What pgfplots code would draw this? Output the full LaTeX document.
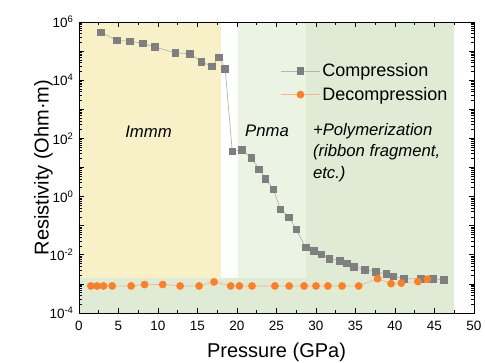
\documentclass[border=0pt]{standalone}
\usepackage{pgfplots}
\pgfplotsset{compat=1.18}
\usepackage{fontspec}
\setmainfont{Liberation Sans}
\definecolor{cyel}{HTML}{F8F1C8}
\definecolor{cgl}{HTML}{EBF4E3}
\definecolor{cg}{HTML}{DFEBD4}
\definecolor{cgray}{HTML}{7F7F7F}
\definecolor{cgrayl}{HTML}{B4B4B4}
\definecolor{corange}{HTML}{FF7F27}
\definecolor{corangel}{HTML}{F9B585}
\begin{document}
\begin{tikzpicture}
\path[use as bounding box] (-79pt,-50pt) rectangle (406pt,313pt);
\begin{axis}[
  at={(0,0)}, anchor=south west,
  scale only axis, width=395pt, height=291pt,
  ymode=log, log basis y=10,
  xmin=0, xmax=50, ymin=1e-4, ymax=1e6,
  axis on top,
  axis line style={line width=0.9pt},
  every tick/.style={black, line width=0.7pt},
  tick align=inside,
  major tick length=5pt, minor tick length=3pt,
  xtick={0,5,...,50},
  minor xtick={2.5,7.5,...,47.5},
  ytick={1e-4,1e-3,1e-2,1e-1,1e0,1e1,1e2,1e3,1e4,1e5,1e6},
  yticklabels={10\textsuperscript{-4},{},10\textsuperscript{-2},{},10\textsuperscript{0},{},10\textsuperscript{2},{},10\textsuperscript{4},{},10\textsuperscript{6}},
  minor ytick={2e-4,3e-4,4e-4,5e-4,6e-4,7e-4,8e-4,9e-4,
    2e-3,3e-3,4e-3,5e-3,6e-3,7e-3,8e-3,9e-3,
    2e-2,3e-2,4e-2,5e-2,6e-2,7e-2,8e-2,9e-2,
    2e-1,3e-1,4e-1,5e-1,6e-1,7e-1,8e-1,9e-1,
    2,3,4,5,6,7,8,9,
    20,30,40,50,60,70,80,90,
    200,300,400,500,600,700,800,900,
    2e3,3e3,4e3,5e3,6e3,7e3,8e3,9e3,
    2e4,3e4,4e4,5e4,6e4,7e4,8e4,9e4,
    2e5,3e5,4e5,5e5,6e5,7e5,8e5,9e5},
  /pgf/number format/assume math mode=true,
  ticklabel style={font=\fontsize{13.5}{16}\selectfont},
  xticklabel style={yshift=-5pt},
  yticklabel style={xshift=-2pt},
  xlabel={Pressure (GPa)},
  ylabel={Resistivity (Ohm·m)},
  label style={font=\fontsize{20}{24}\selectfont},
  xlabel style={yshift=-5pt},
  ylabel style={yshift=-10pt},
  legend cell align=left,
  legend style={draw=none, fill=none, at={(0.51,0.791)}, anchor=west,
    font=\fontsize{18}{23}\selectfont, row sep=5pt, inner sep=0pt},
  legend image code/.code={\draw[mark repeat=2,mark phase=2] plot coordinates {(0pt,0pt) (19.5pt,0pt) (39pt,0pt)};},
]
\fill[cyel] (axis cs:0,1.65e-3) rectangle (axis cs:18,1e6);
\fill[cgl] (axis cs:20.1,1.65e-3) rectangle (axis cs:28.7,1e6);
\fill[cg] (axis cs:28.7,1e-4) rectangle (axis cs:47.5,1e6);
\fill[cg] (axis cs:0,1e-4) rectangle (axis cs:28.7,1.65e-3);

\addplot[color=cgrayl, line width=0.7pt, mark=square*, mark size=3.3pt,
  mark options={fill=cgray, draw=cgray}] coordinates {
(2.8,4.37e5) (4.8,2.34e5) (6.4,2.19e5) (8.1,1.86e5) (9.6,1.38e5)
(12.2,8.7e4) (14.05,8.1e4) (15.5,4.37e4) (16.8,2.95e4) (17.7,6.17e4)
(18.5,2.51e4) (19.4,36.3) (20.6,39.8) (21.8,21.9) (22.8,8.71)
(23.6,4.17) (24.6,1.78) (25.5,0.363) (26.6,0.195) (27.5,0.0741)
(28.7,0.0178) (29.7,0.0138) (30.7,0.0105) (31.7,0.00741) (33.0,0.00631)
(33.9,0.00501) (34.8,0.00389) (36.2,0.00309) (37.6,0.00263) (38.9,0.00219)
(39.8,0.00182) (41.1,0.00151) (43.3,0.00151) (44.8,0.00151) (46.2,0.00138)
};
\addlegendentry{Compression}
\addplot[color=corangel, line width=0.7pt, mark=*, mark size=3.5pt,
  mark options={fill=corange, draw=corange}] coordinates {
(1.5,8.5e-4) (2.3,8.5e-4) (3.1,8.5e-4) (4.2,8.5e-4) (6.6,8.5e-4)
(8.3,9.5e-4) (10.6,9.5e-4) (12.8,8.5e-4) (15.2,8.5e-4) (17.1,1.17e-3)
(19.2,8.5e-4) (20.3,8.5e-4) (21.9,8.5e-4) (24.8,8.5e-4) (26.6,8.5e-4)
(28.5,8.5e-4) (30.0,8.5e-4) (31.5,8.5e-4) (33.3,8.5e-4) (35.4,8.5e-4)
(37.8,1.51e-3) (39.5,1.02e-3) (40.8,1.07e-3) (42.9,1.2e-3) (44.1,1.45e-3)
};
\addlegendentry{Decompression}

\node[font=\fontsize{16.7}{20}\selectfont\itshape] at (axis cs:8.8,166) {Immm};
\node[font=\fontsize{16.7}{20}\selectfont\itshape] at (axis cs:23.8,178) {Pnma};
\node[font=\fontsize{16.7}{21.7}\selectfont\itshape, align=left, anchor=west, inner sep=0pt]
  at (axis cs:29.6,33) {+Polymerization\\(ribbon fragment,\\etc.)};
\end{axis}
\end{tikzpicture}
\end{document}
